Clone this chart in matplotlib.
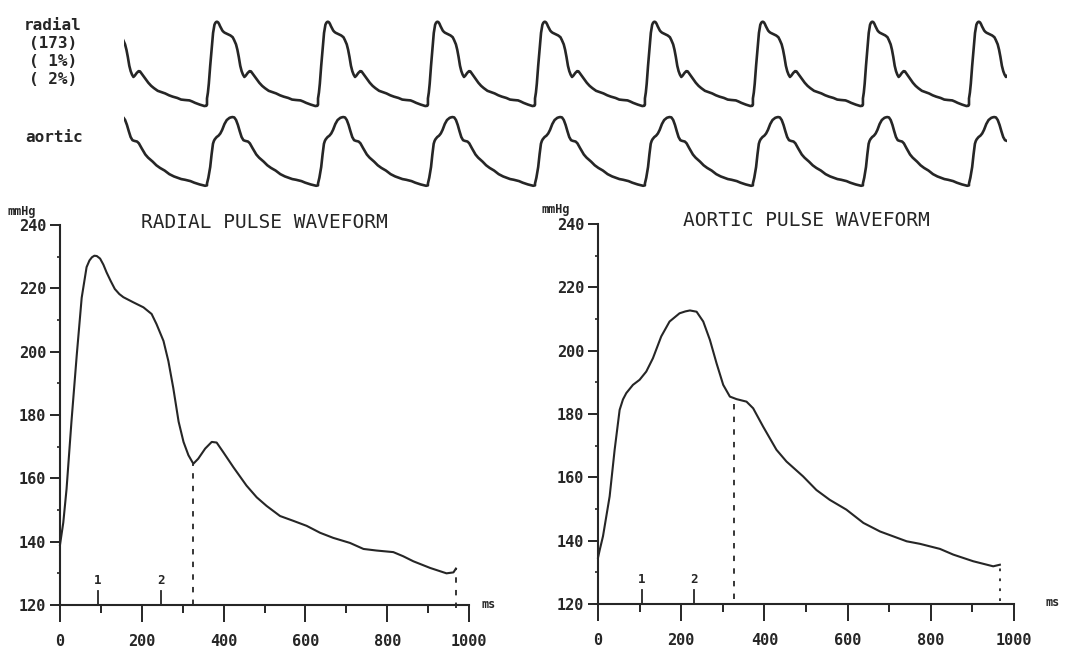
import numpy as np
import matplotlib
matplotlib.use("Agg")
import matplotlib.pyplot as plt

# ---------------- data ----------------
# averaged radial pulse waveform (ms, mmHg)
radial_t = [0, 8, 16, 28, 41, 53, 65, 72, 78, 84, 90, 98, 106, 114, 124, 134,
            145, 155, 179, 204, 224, 236, 253, 265, 277, 290, 302, 314, 326,
            338, 355, 371, 383, 399, 424, 456, 481, 505, 538, 570, 603, 636,
            668, 709, 742, 774, 815, 839, 864, 905, 945, 962, 968]
radial_p = [139, 146, 156.6, 177.9, 199, 217, 226.7, 228.8, 229.8, 230.3, 230.2,
            229.4, 227.5, 225, 222.3, 219.8, 218.2, 217.2, 215.6, 214, 211.9,
            208.7, 203.4, 197, 188.5, 177.9, 171.5, 167.3, 164.6, 166.2, 169.4,
            171.5, 171.3, 168.3, 163.5, 157.7, 154, 151.3, 148.1, 146.6, 145,
            142.8, 141.2, 139.6, 137.7, 137.2, 136.7, 135.4, 133.8, 131.7, 130,
            130.3, 131.5]

# derived aortic pulse waveform (ms, mmHg)
aortic_t = [0, 4, 12, 28, 40, 52, 60, 68, 84, 100, 116, 132, 152, 172, 196,
            210, 221, 237, 253, 269, 285, 301, 317, 333, 357, 373, 397, 429,
            453, 493, 525, 557, 597, 638, 678, 742, 774, 822, 854, 902, 950, 966]
aortic_p = [134.6, 137, 141.4, 154, 168.7, 181.3, 184.6, 186.6, 189.2, 190.8,
            193.4, 197.6, 204.5, 209.2, 211.8, 212.4, 212.7, 212.3, 209.2, 203.4,
            196, 189.2, 185.5, 184.7, 183.9, 181.8, 176, 168.7, 165, 160.3, 156,
            152.9, 149.8, 145.6, 142.9, 139.8, 139, 137.4, 135.6, 133.5, 131.9,
            132.4]

# markers: systolic points 1, 2; dicrotic notch (end systole); end of beat
radial_marks = {"1": 92, "2": 247}
aortic_marks = {"1": 105, "2": 231}
radial_notch_ms, radial_end_ms = 326, 968
aortic_notch_ms, aortic_end_ms = 327, 966

# recorded strip: beat onsets (ms) and recording window
beat_onsets = [-985, 0, 986, 1962, 2913, 3889, 4848, 5825, 6767]
strip_window = (-737, 7100)

strip_labels = ["radial", "(173)", "( 1%)", "( 2%)"]
x_ticks = [0, 200, 400, 600, 800, 1000]
y_ticks = [120, 140, 160, 180, 200, 220, 240]

# ---------------- figure ----------------
W, H = 1077, 656
INK = "#262626"
MONO = "DejaVu Sans Mono"
fig = plt.figure(figsize=(W / 100, H / 100), dpi=100)
fig.patch.set_facecolor("white")


def px_axes(x0, y0, x1, y1):
    return fig.add_axes([x0 / W, 1 - y1 / H, (x1 - x0) / W, (y1 - y0) / H])


def fx(px):
    return px / W


def fy(py):
    return 1 - py / H


# ---------------- top strips ----------------
def strip_series(t, p):
    t = np.asarray(t, float)
    L = t[-1]
    xs, ys = [], []
    for i, on in enumerate(beat_onsets):
        nxt = beat_onsets[i + 1] if i + 1 < len(beat_onsets) else on + 975
        xs.append(on + t * (nxt - on) / L)
        ys.append(np.asarray(p, float))
    return np.concatenate(xs), np.concatenate(ys)


ax_rs = px_axes(124, 12, 1006.5, 112)
xr, yr = strip_series(radial_t, radial_p)
ax_rs.plot(xr, yr, color=INK, lw=1.9, solid_joinstyle="round")
ax_rs.set_xlim(*strip_window)
ax_rs.set_ylim(122.9, 241.9)
ax_rs.axis("off")

ax_as = px_axes(124, 110, 1006.5, 192)
xa, ya = strip_series(aortic_t, aortic_p)
ax_as.plot(xa, ya, color=INK, lw=1.9, solid_joinstyle="round")
ax_as.set_xlim(*strip_window)
ax_as.set_ylim(124.6, 221)
ax_as.axis("off")

for lab, py in zip(strip_labels, [26, 43, 61, 79]):
    fig.text(fx(53), fy(py), lab, ha="center", va="center", family=MONO,
             weight="bold", fontsize=11.5, color=INK)
fig.text(fx(54), fy(137), "aortic", ha="center", va="center", family=MONO,
         weight="bold", fontsize=11.5, color=INK)


# ---------------- big waveform panels ----------------
def panel(box, t, p, title, marks, notch_ms, end_ms, end_style, notch_bottom,
          end_bottom, title_y, mm_xy, ms_xy):
    ax = px_axes(*box)
    ax.plot(t, p, color=INK, lw=1.5, solid_joinstyle="round", clip_on=False)
    ax.set_xlim(0, 1000)
    ax.set_ylim(120, 240)
    for s in ("top", "right"):
        ax.spines[s].set_visible(False)
    for s in ("left", "bottom"):
        ax.spines[s].set_linewidth(1.5)
        ax.spines[s].set_color(INK)
    ax.set_xticks(x_ticks)
    ax.set_xticks([100, 300, 500, 700, 900], minor=True)
    ax.set_yticks(y_ticks)
    ax.set_yticks([130, 150, 170, 190, 210, 230], minor=True)
    ax.tick_params(axis="x", which="major", direction="out", length=12,
                   width=1.4, color=INK, pad=9)
    ax.tick_params(axis="x", which="minor", direction="out", length=5.5,
                   width=1.4, color=INK)
    ax.tick_params(axis="y", which="major", direction="out", length=7,
                   width=1.4, color=INK, pad=3)
    ax.tick_params(axis="y", which="minor", direction="out", length=2,
                   width=1.2, color=INK)
    ax.set_xticklabels([str(v) for v in x_ticks])
    ax.set_yticklabels([str(v) for v in y_ticks])
    for lab in ax.get_xticklabels() + ax.get_yticklabels():
        lab.set_family(MONO)
        lab.set_weight("bold")
        lab.set_fontsize(11)
        lab.set_color(INK)
    ax.patch.set_alpha(0)

    # dicrotic notch and end-of-beat lines
    ny = np.interp(notch_ms, t, p)
    ax.plot([notch_ms, notch_ms], [notch_bottom, ny], color=INK, lw=1.3,
            ls=(0, (3, 4)), clip_on=False)
    ey = np.interp(end_ms, t, p)
    ax.plot([end_ms, end_ms], [end_bottom, ey], color=INK, lw=1.3,
            ls=end_style, clip_on=False)

    # systolic markers 1 and 2
    for lab, ms in marks.items():
        ax.plot([ms, ms], [120, 124.5], color=INK, lw=1.3, clip_on=False)
        ax.text(ms, 127.6, lab, ha="center", va="center", family=MONO,
                weight="bold", fontsize=9, color=INK)

    cx = (box[0] + box[2]) / 2
    fig.text(fx(cx), fy(title_y), title, ha="center", va="center",
             family=MONO, fontsize=14, color=INK)
    fig.text(fx(mm_xy[0]), fy(mm_xy[1]), "mmHg", ha="left", va="center",
             family=MONO, weight="bold", fontsize=8.5, color=INK)
    fig.text(fx(ms_xy[0]), fy(ms_xy[1]), "ms", ha="left", va="center",
             family=MONO, weight="bold", fontsize=8.5, color=INK)
    return ax


panel((60, 225, 469, 605), radial_t, radial_p, "RADIAL PULSE WAVEFORM",
      radial_marks, radial_notch_ms, radial_end_ms, (0, (3, 4)), 120, 119,
      222, (8, 211), (481, 605))
panel((598, 224, 1014, 604), aortic_t, aortic_p, "AORTIC PULSE WAVEFORM",
      aortic_marks, aortic_notch_ms, aortic_end_ms, (0, (1.5, 4)), 121.5, 121,
      220, (542, 209), (1045, 603))

fig.savefig("out.png", dpi=100, facecolor="white")
